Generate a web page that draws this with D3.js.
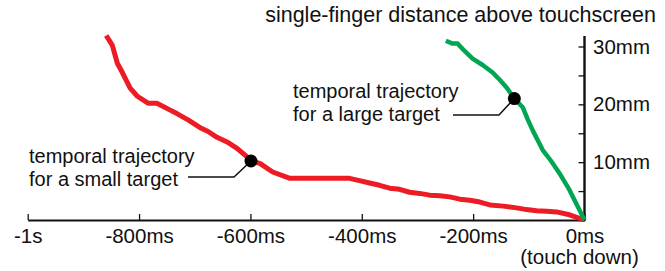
<!DOCTYPE html>
<html>
<head>
<meta charset="utf-8">
<script src="https://cdn.jsdelivr.net/npm/d3@7/dist/d3.min.js"></script>
<style>
  body { margin: 0; background: #fff; }
  text { font-family: "Liberation Sans", Arial, sans-serif; fill: #111; }
</style>
</head>
<body>
<svg id="chart" width="665" height="271"></svg>
<script>
// tiempos (ms) y alturas (mm)
const smallT = [-859, -848, -839, -830, -816, -803, -784, -768, -744, -732, -712, -691, -676, -660, -642, -624, -606, -599, -583, -560, -529, -500, -470, -439, -422, -404, -386, -368, -350, -332, -314, -296, -278, -260, -242, -224, -206, -188, -170, -146, -122, -104, -86, -68, -50, -27, 0];
const smallY = [31.9, 30.2, 27.1, 25.5, 22.8, 21.4, 20.2, 20.2, 19.0, 18.4, 17.3, 16.0, 15.3, 14.3, 13.5, 12.4, 10.9, 10.2, 9.8, 8.3, 7.2, 7.2, 7.2, 7.2, 7.2, 6.8, 6.4, 6.0, 5.5, 5.3, 4.8, 4.6, 4.3, 4.2, 4.0, 3.6, 3.4, 3.1, 2.6, 2.4, 2.1, 1.8, 1.6, 1.5, 1.4, 0.9, 0];
const largeT = [-249, -237, -228, -214, -201, -183, -165, -152, -140, -126, -111, -102, -93, -84, -75, -60, -45, -27, 0];
const largeY = [31.0, 30.5, 30.5, 29.1, 27.9, 26.8, 25.5, 24.2, 22.9, 21.0, 19.5, 17.4, 15.5, 13.8, 12.1, 10.2, 8.1, 5.2, 0];
const smallDot = [-599, 10.2];
const largeDot = [-126, 21.0];
const xTicks = [-1000, -800, -600, -400, -200, 0];
const xLabels = ["-1s", "-800ms", "-600ms", "-400ms", "-200ms", "0ms"];
const yTicks = [0, 5, 10, 15, 20, 25, 30];
const yLabels = { 10: "10mm", 20: "20mm", 30: "30mm" };

const svg = d3.select("#chart");
const fs = "20.5px";

const x = d3.scaleLinear().domain([-1000, 0]).range([27.7, 584.5]);
const y = d3.scaleLinear().domain([0, 30]).range([220, 46.5]);

// eje x
const gx = svg.append("g").attr("transform", "translate(0,220)");
gx.call(d3.axisBottom(x).tickValues(xTicks).tickSize(-6).tickFormat((d, i) => xLabels[i]).tickSizeOuter(0));
gx.select(".domain").attr("stroke", "#111").attr("stroke-width", 2.2);
gx.selectAll(".tick line").attr("stroke", "#111").attr("stroke-width", 1.3);
gx.selectAll(".tick text").attr("y", 23).attr("dy", null)
  .style("font-size", fs).attr("fill", "#111");
gx.append("text").attr("x", x(0) - 5).attr("y", 44)
  .attr("text-anchor", "middle").style("font-size", fs).text("(touch down)");

// eje y
const gy = svg.append("g").attr("transform", `translate(${x(0)},0)`);
gy.call(d3.axisRight(y).tickValues(yTicks).tickSize(-6).tickFormat(d => yLabels[d] || "").tickSizeOuter(0));
gy.select(".domain").attr("stroke", "#111").attr("stroke-width", 2.4)
  .attr("d", `M0,${y(0) + 1}V36`);
gy.selectAll(".tick line").attr("stroke", "#111").attr("stroke-width", 1.3);
gy.selectAll(".tick text").attr("x", 8.5).style("font-size", fs).attr("fill", "#111");

svg.append("text").attr("x", 656).attr("y", 22).attr("text-anchor", "end")
  .style("font-size", "21.5px").text("single-finger distance above touchscreen");

const line = d3.line().x(d => x(d[0])).y(d => y(d[1]));

svg.append("path").datum(smallT.map((t, i) => [t, smallY[i]]))
  .attr("d", line).attr("fill", "none").attr("stroke", "#ED1C24")
  .attr("stroke-width", 5).attr("stroke-linejoin", "round");
svg.append("path").datum(largeT.map((t, i) => [t, largeY[i]]))
  .attr("d", line).attr("fill", "none").attr("stroke", "#00A651")
  .attr("stroke-width", 4.5).attr("stroke-linejoin", "round");

// anotaciones
function note(dot, lines, tx, ty, ly, elbowX, endX) {
  const cx = x(dot[0]), cy = y(dot[1]);
  svg.append("path")
    .attr("d", `M${endX},${ly}H${elbowX}L${cx},${cy}`)
    .attr("fill", "none").attr("stroke", "#111").attr("stroke-width", 1.5);
  svg.append("circle").attr("cx", cx).attr("cy", cy).attr("r", 6.5).attr("fill", "#000");
  lines.forEach((s, i) => svg.append("text").attr("x", tx).attr("y", ty + i * 22.6)
    .style("font-size", "20px").text(s));
}
note(smallDot, ["temporal trajectory", "for a small target"], 29, 163, 177, 234, 188);
note(largeDot, ["temporal trajectory", "for a large target"], 293, 98, 115, 499, 453);
</script>
</body>
</html>
